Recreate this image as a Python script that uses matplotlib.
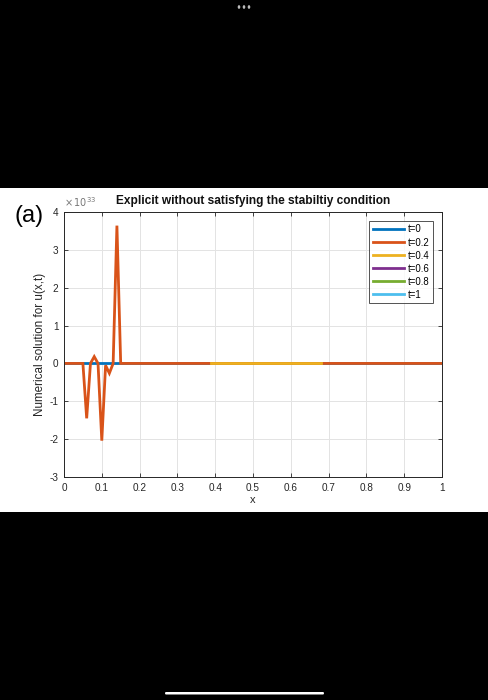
import numpy as np
import matplotlib
matplotlib.use("Agg")
import matplotlib.pyplot as plt
from matplotlib.patches import Rectangle, FancyBboxPatch

plt.rcParams['font.family'] = ['Liberation Sans', 'DejaVu Sans']
plt.rcParams['axes.unicode_minus'] = False

# ---- data (values in units of 1e33) ----
x = np.round(np.arange(0, 1.0001, 0.01), 2)
labels = ["t=0", "t=0.2", "t=0.4", "t=0.6", "t=0.8", "t=1"]
colors = ["#0072BD", "#D95319", "#EDB120", "#7E2F8E", "#77AC30", "#4DBEEE"]
spike_x = [0.05, 0.06, 0.07, 0.08, 0.09, 0.10, 0.11, 0.12, 0.13, 0.14, 0.15]
spike_u = [0.0, -1.45, 0.0, 0.18, 0.0, -2.04, -0.05, -0.26, 0.0, 3.64, 0.0]
t04_finite_range = [0.39, 0.68]   # where t=0.4 is finite (zero); NaN elsewhere
exponent = 33

u0 = np.zeros_like(x)
u02 = np.zeros_like(x)
for xs, us in zip(spike_x, spike_u):
    u02[np.isclose(x, xs)] = us
u04 = np.where((x >= t04_finite_range[0] - 1e-9) & (x <= t04_finite_range[1] + 1e-9), 0.0, np.nan)
u06 = np.full_like(x, np.nan)
u08 = np.full_like(x, np.nan)
u1 = np.full_like(x, np.nan)
series = [u0, u02, u04, u06, u08, u1]

W, H = 489, 700
fig = plt.figure(figsize=(W / 100, H / 100), dpi=100, facecolor="black")

# white screenshot region
fig.patches.append(Rectangle((0, 1 - 512 / H), 1, (512 - 188) / H, transform=fig.transFigure,
                             facecolor="white", edgecolor="none", zorder=-10))
# top ellipsis dots
for dx in (-5, 0, 5):
    fig.patches.append(plt.Circle(((244 + dx) / W, 1 - 7 / H), 1.3 / W, transform=fig.transFigure,
                                  facecolor="#bbbbbb", edgecolor="none", zorder=-10))
# home indicator
fig.patches.append(FancyBboxPatch((165 / W, 1 - 694.5 / H), 159 / W, 2.5 / H,
                                  boxstyle="round,pad=0,rounding_size=0.002",
                                  transform=fig.transFigure, facecolor="white", edgecolor="none",
                                  zorder=-10))

ax = fig.add_axes([64 / W, 1 - 477 / H, 378 / W, 265 / H])
ax.set_zorder(5)
ax.set_facecolor("white")
for lab, col, u in zip(labels, colors, series):
    ax.plot(x, u, color=col, lw=2.0, label=lab, solid_joinstyle="miter")

ax.set_xlim(0, 1)
ax.set_ylim(-3, 4)
ax.set_xticks(np.arange(0, 1.01, 0.1))
ax.set_xticklabels(["0", "0.1", "0.2", "0.3", "0.4", "0.5", "0.6", "0.7", "0.8", "0.9", "1"])
ax.set_yticks(range(-3, 5))
ax.grid(True, color="#e3e3e3", lw=0.7)
ax.set_axisbelow(True)
ax.tick_params(direction="in", length=3, width=0.6, colors="#262626", labelsize=7.2,
               top=True, right=True, pad=4)
for s in ax.spines.values():
    s.set_color("#262626")
    s.set_linewidth(0.7)

ax.set_title("Explicit without satisfying the stabiltiy condition", fontsize=8.6,
             fontweight="bold", pad=5.5, color="#111111")
ax.set_xlabel("x", fontsize=8, color="#262626", labelpad=2)
ax.set_ylabel("Numerical solution for u(x,t)", fontsize=8.4, color="#262626", labelpad=2.5)

ax.text(0.0, 1.012, r"$\times\,10^{%d}$" % exponent, transform=ax.transAxes, fontsize=7,
        color="#777777", ha="left", va="bottom")

leg = ax.legend(loc="upper right", fontsize=6.9, frameon=True, fancybox=False,
                edgecolor="#262626", handlelength=3.3, handletextpad=0.35,
                labelspacing=0.32, borderpad=0.35, borderaxespad=0.95)
leg.get_frame().set_linewidth(0.7)

fig.text(15 / W, 1 - 216 / H, "(a)", fontsize=17, color="black", ha="left", va="center", zorder=6)

fig.savefig("out.png", dpi=100, facecolor="black")
